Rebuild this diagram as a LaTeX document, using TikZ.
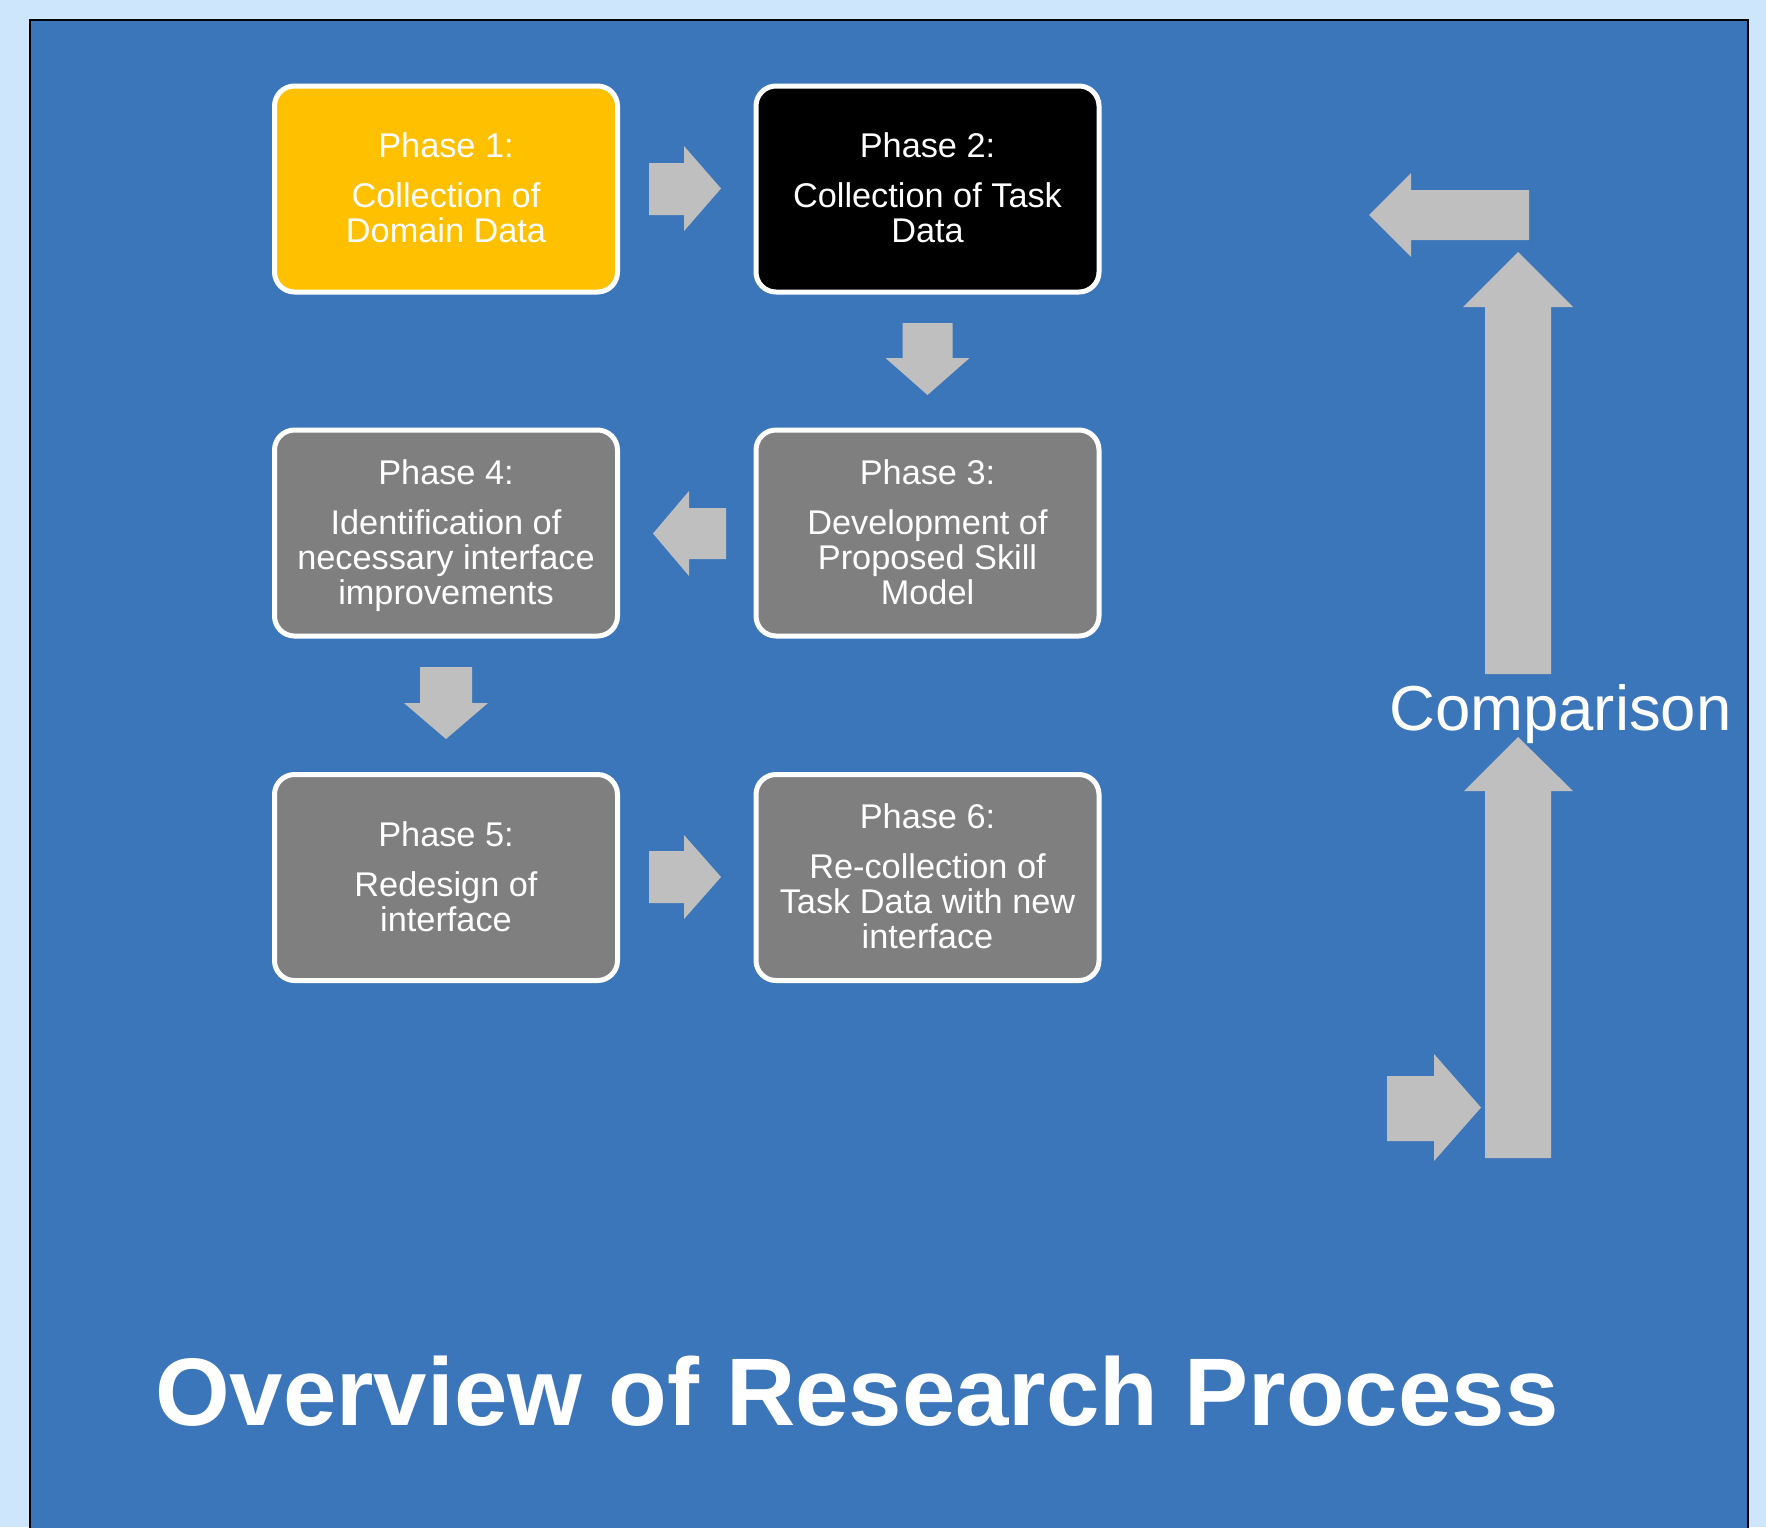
\documentclass[tikz,border=0pt]{standalone}
\usepackage{fontspec}
\setmainfont{Liberation Sans}
\definecolor{bgblue}{RGB}{206,230,252}
\definecolor{panel}{RGB}{60,118,186}
\definecolor{phgrey}{RGB}{127,127,127}
\definecolor{phyellow}{RGB}{255,192,0}
\definecolor{arrgrey}{RGB}{191,191,191}
\newcommand{\dpfix}{\vphantom{p}}
\newcommand{\htfix}{\rule{0pt}{30pt}}
\begin{document}
\begin{tikzpicture}[x=1pt,y=-1pt,
  phasebox/.style={draw=white, line width=5pt, rounded corners=20pt,
    minimum width=343pt, minimum height=206pt, inner sep=0pt,
    align=center, text=white, font=\fontsize{34.3}{35}\selectfont},
  blockarrow/.style={fill=arrgrey},
  whitetext/.style={anchor=base west, inner sep=0pt, text=white}]
\fill[bgblue] (0,0) rectangle (1766,1527);
\useasboundingbox (0,0) rectangle (1766,1527);
\draw[fill=panel, draw=black, line width=2.5pt] (30,20) rectangle (1748,1545);

% phase boxes
\node[phasebox, fill=phyellow] (p1) at (446,189) {\htfix Phase 1:\\[15pt]Collection of\\Domain Data\dpfix};
\node[phasebox, fill=black] (p2) at (927.5,189) {\htfix Phase 2:\\[15pt]Collection of Task\\Data\dpfix};
\node[phasebox, fill=phgrey] (p3) at (927.5,533) {\htfix Phase 3:\\[15pt]Development of\\Proposed Skill\\Model\dpfix};
\node[phasebox, fill=phgrey] (p4) at (446,533) {\htfix Phase 4:\\[15pt]Identification of\\necessary interface\\improvements\dpfix};
\node[phasebox, fill=phgrey] (p5) at (446,877.5) {\htfix Phase 5:\\[15pt]Redesign of\\interface\dpfix};
\node[phasebox, fill=phgrey] (p6) at (927.5,877.5) {\htfix Phase 6:\\[15pt]Re-collection of\\Task Data with new\\interface\dpfix};

% block arrows between phases
\fill[blockarrow] (649,163) -- (684,163) -- (684,146) -- (721,188.5) -- (684,231) -- (684,215) -- (649,215) -- cycle;
\fill[blockarrow] (902.5,323) -- (952.5,323) -- (952.5,358) -- (969.5,358) -- (927.5,395) -- (885.5,358) -- (902.5,358) -- cycle;
\fill[blockarrow] (726,508) -- (689,508) -- (689,491) -- (653,533.5) -- (689,576) -- (689,559) -- (726,559) -- cycle;
\fill[blockarrow] (420,667) -- (472,667) -- (472,703) -- (488,703) -- (446,739) -- (404,703) -- (420,703) -- cycle;
\fill[blockarrow] (649,851) -- (684,851) -- (684,835) -- (721,877) -- (684,919) -- (684,903) -- (649,903) -- cycle;

% comparison loop arrows
\fill[blockarrow] (1529,190) -- (1411,190) -- (1411,173) -- (1369,215) -- (1411,257) -- (1411,240) -- (1529,240) -- cycle;
\fill[blockarrow] (1485,674) -- (1485,307) -- (1463,307) -- (1518,252) -- (1573,307) -- (1551,307) -- (1551,674) -- cycle;
\fill[blockarrow] (1485,1158) -- (1485,791) -- (1464,791) -- (1518,737) -- (1573,791) -- (1551,791) -- (1551,1158) -- cycle;
\fill[blockarrow] (1387,1076) -- (1434,1076) -- (1434,1054) -- (1481,1107.5) -- (1434,1161) -- (1434,1141) -- (1387,1141) -- cycle;

\node[whitetext, font=\fontsize{63.5}{70}\selectfont] (cmp) at (1389,730) {Comparison};
\node[whitetext, font=\fontsize{96}{100}\selectfont\bfseries] (title) at (155,1425) {Overview of Research Process};
\end{tikzpicture}
\end{document}
